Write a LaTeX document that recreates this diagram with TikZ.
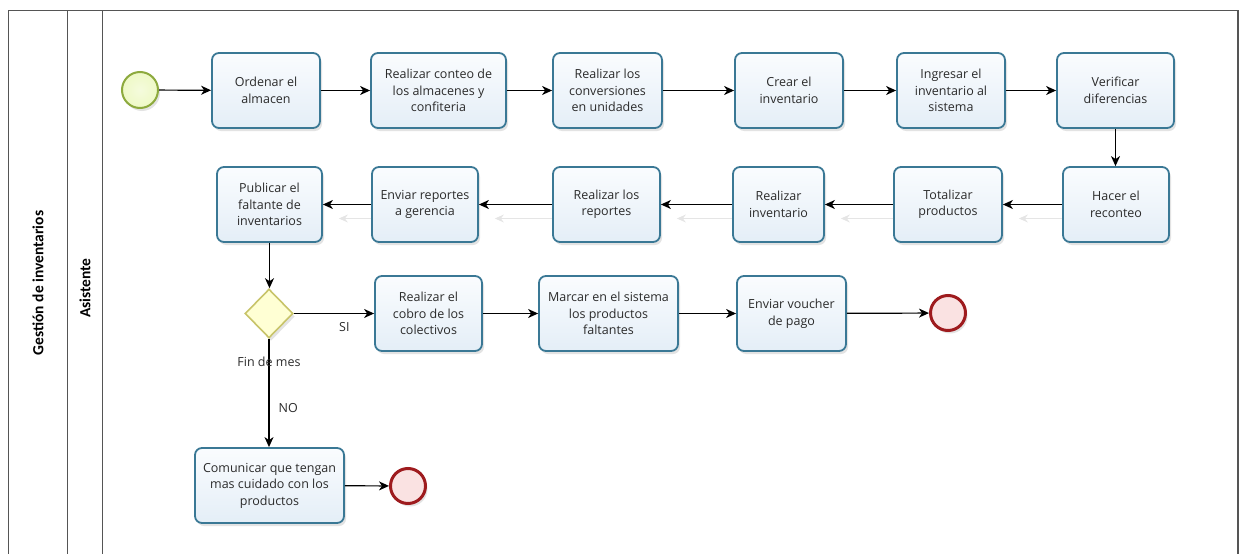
\documentclass[tikz,border=0pt]{standalone}
\usepackage{fontspec}
\setmainfont{Open Sans}
\newfontfamily\lanefont{Carlito}
\usetikzlibrary{arrows.meta,shapes.geometric,shadows}

\definecolor{taskborder}{HTML}{3A7895}
\definecolor{taskfillA}{HTML}{FAFCFE}
\definecolor{taskfillB}{HTML}{E4EEF7}
\definecolor{startborder}{HTML}{8DAA3E}
\definecolor{startfill}{HTML}{EEF9C6}
\definecolor{endborder}{HTML}{9E1B1E}
\definecolor{endfill}{HTML}{FAE2E2}
\definecolor{gwborder}{HTML}{C8C46A}
\definecolor{gwfill}{HTML}{FFFFD4}
\definecolor{poolline}{HTML}{555555}
\definecolor{labeltext}{HTML}{2B2B2B}

\tikzset{
  softshadow/.style={drop shadow={shadow xshift=2pt,shadow yshift=-3pt,opacity=0.18,fill=black!60}},
  task/.style={draw=taskborder, line width=1.8pt, rounded corners=7pt,
    top color=taskfillA, bottom color=taskfillB, align=center,
    font=\fontsize{12.5}{16.5}\selectfont, text=labeltext, inner sep=2pt,
    minimum height=75pt, softshadow},
  startev/.style={circle, draw=startborder, line width=2pt, inner color=startfill!60, outer color=startfill,
    minimum size=36pt, inner sep=0pt, softshadow},
  endev/.style={circle, draw=endborder, line width=3pt, fill=endfill,
    minimum size=35pt, inner sep=0pt, softshadow},
  gateway/.style={diamond, draw=gwborder, line width=1.6pt, fill=gwfill,
    minimum width=48pt, minimum height=49pt, inner sep=0pt, softshadow},
  flow/.style={-{Stealth[length=10pt,width=9pt,inset=3pt]}, line width=1.2pt, black},
  ghost/.style={-{Stealth[length=9pt,width=8pt,inset=3pt]}, line width=1pt, black!10},
  lbl/.style={font=\fontsize{12.5}{14}\selectfont, text=labeltext, inner sep=1pt},
  lanelbl/.style={font={\fontsize{15.5}{18}\selectfont\lanefont\bfseries}, rotate=90, text=black},
  pool/.style={draw=poolline, line width=0.9pt}
}

\begin{document}
\begin{tikzpicture}[x=1pt,y=-1pt]
\useasboundingbox (0,0) rectangle (1240,554);

% pool and lane frame
\draw[pool] (8,554) -- (8,10) -- (1238,10);
\draw[pool, line width=1.6pt] (1238,10) -- (1238,554);
\draw[pool] (67,10) -- (67,554);
\draw[pool] (102,10) -- (102,554);
\node[lanelbl] (pooltitle) at (38,283) {Gestión de inventarios};
\node[lanelbl] (lanetitle) at (85,288) {Asistente};

% first row
\node[startev] (start) at (140,90) {};
\node[task, minimum width=108pt] (t1) at (266,90.5) {Ordenar el\\almacen};
\node[task, minimum width=135pt] (t2) at (438.5,90.5) {Realizar conteo de\\los almacenes y\\confiteria};
\node[task, minimum width=109pt] (t3) at (607.5,90.5) {Realizar los\\conversiones\\en unidades};
\node[task, minimum width=108pt] (t4) at (789,90.5) {Crear el\\inventario};
\node[task, minimum width=108pt] (t5) at (951,90.5) {Ingresar el\\inventario al\\sistema};
\node[task, minimum width=117pt] (t6) at (1115.5,90.5) {Verificar\\diferencias};

% second row
\node[task, minimum width=106pt] (r1) at (1116,204.5) {Hacer el\\reconteo};
\node[task, minimum width=108pt] (r2) at (948,204.5) {Totalizar\\productos};
\node[task, minimum width=91pt] (r3) at (778.5,204.5) {Realizar\\inventario};
\node[task, minimum width=107pt] (r4) at (606.5,204.5) {Realizar los\\reportes};
\node[task, minimum width=106pt] (r5) at (425,204.5) {Enviar reportes\\a gerencia};
\node[task, minimum width=105pt] (r6) at (269.5,204.5) {Publicar el\\faltante de\\inventarios};

% decision and third row
\node[gateway] (gw) at (269,313.5) {};
\node[task, minimum width=107pt] (s1) at (428.5,313.5) {Realizar el\\cobro de los\\colectivos};
\node[task, minimum width=139pt] (s2) at (608.5,313.5) {Marcar en el sistema\\los productos\\faltantes};
\node[task, minimum width=109pt] (s3) at (791.5,313.5) {Enviar voucher\\de pago};
\node[endev] (end1) at (948,313) {};
\node[task, minimum width=149pt] (c1) at (269.5,485.5) {Comunicar que tengan\\mas cuidado con los\\productos};
\node[endev] (end2) at (408,486) {};

% faint echoes of the return connectors
\draw[ghost] ([yshift=-14pt]r1.west) -- ([xshift=16pt,yshift=-14pt]r2.east);
\draw[ghost] ([yshift=-14pt]r2.west) -- ([xshift=16pt,yshift=-14pt]r3.east);
\draw[ghost] ([yshift=-14pt]r3.west) -- ([xshift=16pt,yshift=-14pt]r4.east);
\draw[ghost] ([yshift=-14pt]r4.west) -- ([xshift=16pt,yshift=-14pt]r5.east);
\draw[ghost] ([yshift=-14pt]r5.west) -- ([xshift=16pt,yshift=-14pt]r6.east);

% sequence flows
\draw[flow] (start) -- (t1);
\draw[flow] (t1) -- (t2);
\draw[flow] (t2) -- (t3);
\draw[flow] (t3) -- (t4);
\draw[flow] (t4) -- (t5);
\draw[flow] (t5) -- (t6);
\draw[flow] (t6.south) -- (t6.south |- r1.north);
\draw[flow] (r1) -- (r2);
\draw[flow] (r2) -- (r3);
\draw[flow] (r3) -- (r4);
\draw[flow] (r4) -- (r5);
\draw[flow] (r5) -- (r6);
\draw[flow] (r6.south) -- (r6.south |- gw.north);
\draw[flow] (gw.east) -- node[lbl, pos=0.63, below=7pt] {SI} (s1.west);
\draw[flow] (s1) -- (s2);
\draw[flow] (s2) -- (s3);
\draw[flow] (s3) -- (end1);
\draw[flow] (gw.south) -- node[lbl, pos=0.21] {Fin de mes} node[lbl, pos=0.64, right=8pt] {NO} (gw.south |- c1.north);
\draw[flow] (c1) -- (end2);
\end{tikzpicture}
\end{document}
